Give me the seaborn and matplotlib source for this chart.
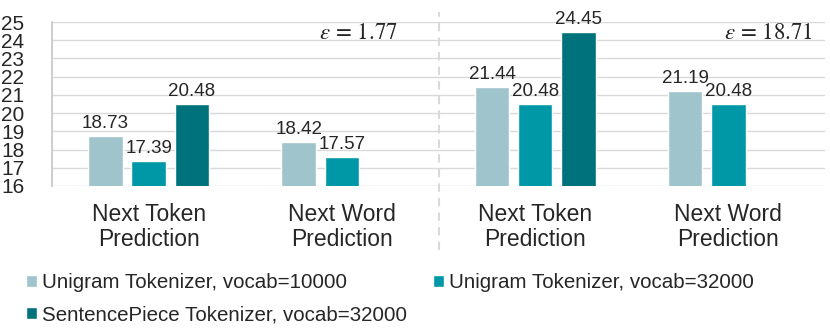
import pandas as pd
import numpy as np
import matplotlib
matplotlib.use("Agg")
import matplotlib.pyplot as plt
import seaborn as sns

# values
eps_values = ["1.77", "18.71"]
tasks = ["Next Token\nPrediction", "Next Word\nPrediction"]
tokenizers = ["Unigram Tokenizer, vocab=10000",
              "Unigram Tokenizer, vocab=32000",
              "SentencePiece Tokenizer, vocab=32000"]
uni10k = [18.73, 18.42, 21.44, 21.19]
uni32k = [17.39, 17.57, 20.48, 20.48]
sp32k = [20.48, np.nan, 24.45, np.nan]

colors = ["#A0C4CC", "#0098A7", "#00727B"]

keys = [f"{t}|{e}" for e in eps_values for t in tasks]
rows = []
for name, vals in zip(tokenizers, [uni10k, uni32k, sp32k]):
    for k, v in zip(keys, vals):
        if not np.isnan(v):
            rows.append({"group": k, "tokenizer": name, "ppl": v})
df = pd.DataFrame(rows)

sns.set_theme(style="white")
plt.rcParams["font.family"] = ["Liberation Sans", "DejaVu Sans"]
plt.rcParams["mathtext.fontset"] = "stix"

fig = plt.figure(figsize=(8.3, 3.33), dpi=100)
ax = fig.add_axes([52 / 830, 1 - 186 / 333, 773 / 830, 164 / 333])

sns.barplot(data=df, x="group", y="ppl", hue="tokenizer", order=keys,
            hue_order=tokenizers, palette=colors, width=0.67, gap=0.2,
            saturation=1, ax=ax, legend=True)

ax.set_ylim(16, 25)
ax.set_yticks(range(16, 26))
ax.set_xlim(-0.5, 3.5)
ax.yaxis.grid(True, color="#d9d9d9", lw=1)
ax.set_axisbelow(True)
for s in ["top", "right", "bottom"]:
    ax.spines[s].set_visible(False)
ax.spines["left"].set_color("#c8c8c8")
ax.set_xlabel("")
ax.set_ylabel("")
ax.set_xticks(range(4))
ax.set_xticklabels(tasks * 2, fontsize=16.5, linespacing=1.15)
ax.tick_params(axis="x", length=0, pad=12)
ax.tick_params(axis="y", length=6, direction="in", color="#c0c0c0",
               pad=20, labelsize=15)

for c in ax.containers:
    ax.bar_label(c, fmt="%.2f", padding=3, fontsize=13.5)

# dashed separator between the two epsilon panels
ax.axvline(1.5, ymin=-0.39, ymax=1.06, color="#d9d9d9", ls=(0, (4, 3)), lw=1.5,
           clip_on=False)

ax.text(1.29, 24.45, r"$\varepsilon\,=\,1.77$", ha="right", va="center", fontsize=16.5)
ax.text(3.44, 24.45, r"$\varepsilon\,=\,18.71$", ha="right", va="center", fontsize=16.5)

handles, labels = ax.get_legend_handles_labels()
ax.legend_.remove()
order = [0, 2, 1]
fig.legend([handles[i] for i in order], [labels[i] for i in order],
           loc="upper left", bbox_to_anchor=(26 / 830, 1 - 273 / 333),
           ncol=2, frameon=False, fontsize=14.8, handlelength=0.54,
           handleheight=0.54, handletextpad=0.25, columnspacing=1.25,
           labelspacing=0.66, borderpad=0, borderaxespad=0)

fig.savefig("out.png", dpi=100)
